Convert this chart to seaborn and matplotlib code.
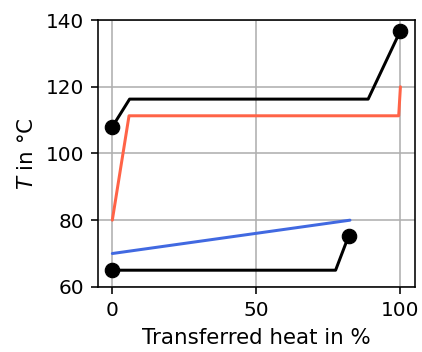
import matplotlib
matplotlib.use("Agg")
import matplotlib.pyplot as plt
import seaborn as sns

# hot stream (black, top)
hot_q = [0, 6, 88.8, 100]
hot_t = [108, 116.3, 116.3, 136.8]
# red stream
red_q = [0, 5.8, 99.4, 100]
red_t = [80, 111.3, 111.3, 120]
# blue stream
blue_q = [0, 82.5]
blue_t = [70, 80]
# cold stream (black, bottom)
cold_q = [0, 77.5, 82]
cold_t = [65, 65, 75.2]

# end points marked
mark_q = [0, 100, 0, 82]
mark_t = [108, 136.8, 65, 75.2]

sns.set_style("ticks")
plt.rcParams["font.family"] = ["DejaVu Sans"]
plt.rcParams["text.color"] = "black"
plt.rcParams["axes.labelcolor"] = "black"
plt.rcParams["xtick.color"] = "black"
plt.rcParams["ytick.color"] = "black"

fig, ax = plt.subplots(figsize=(422 / 144, 352 / 144), dpi=144)
fig.subplots_adjust(left=0.232, right=0.983, top=0.943, bottom=0.185)

sns.lineplot(x=hot_q, y=hot_t, sort=False, color="black", lw=1.5, ax=ax)
sns.lineplot(x=red_q, y=red_t, sort=False, color="tomato", lw=1.5, ax=ax)
sns.lineplot(x=blue_q, y=blue_t, sort=False, color="royalblue", lw=1.5, ax=ax)
sns.lineplot(x=cold_q, y=cold_t, sort=False, color="black", lw=1.5, ax=ax)
sns.scatterplot(x=mark_q, y=mark_t, color="black", s=52, edgecolor="black", zorder=5, ax=ax)

ax.set_ylim(60, 140)
ax.set_yticks([60, 80, 100, 120, 140])
ax.set_xticks([0, 50, 100])
ax.grid(True, color="#b0b0b0", lw=0.8)
for s in ax.spines.values():
    s.set_color("black")
    s.set_linewidth(0.8)
ax.set_xlabel("Transferred heat in %", fontsize=10.7)
ax.set_ylabel("$T$ in °C", fontsize=10.7)
ax.tick_params(labelsize=10, length=3.5, width=0.8)

fig.savefig("out.png", dpi=144)
